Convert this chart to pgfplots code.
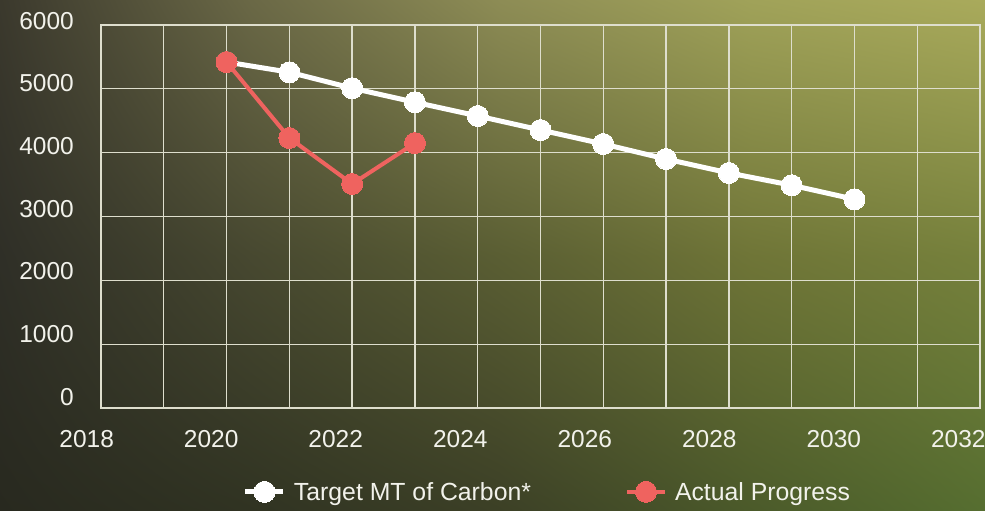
\documentclass[border=0pt]{standalone}
\usepackage{pgfplots}
\pgfplotsset{compat=1.18}
\usetikzlibrary{shadings}
\usepackage{fontspec}
\setmainfont{Liberation Sans}
\definecolor{redc}{RGB}{239,99,95}
\definecolor{txt}{RGB}{242,242,235}
\definecolor{gridc}{RGB}{222,222,205}
% background colour grid (top, middle, bottom rows; 5 columns)
\definecolor{tA}{HTML}{3B392D}\definecolor{tB}{HTML}{6A6846}\definecolor{tC}{HTML}{8D8C55}\definecolor{tD}{HTML}{A0A259}\definecolor{tE}{HTML}{A9AA5B}
\definecolor{mA}{HTML}{2F2F27}\definecolor{mB}{HTML}{474830}\definecolor{mC}{HTML}{5A5E33}\definecolor{mD}{HTML}{6F7537}\definecolor{mE}{HTML}{76813C}
\definecolor{bA}{HTML}{28291F}\definecolor{bB}{HTML}{303322}\definecolor{bC}{HTML}{3C4026}\definecolor{bD}{HTML}{4B5A2A}\definecolor{bE}{HTML}{566E30}
\newcommand\patch[8]{\shade[upper left=#5, upper right=#6, lower left=#7, lower right=#8] (#1bp,#2bp) rectangle (#3bp,#4bp);}
\begin{document}
\begin{tikzpicture}
\patch{0}{255}{250.5}{511}{tA}{tB}{mA}{mB}
\patch{250}{255}{500.5}{511}{tB}{tC}{mB}{mC}
\patch{500}{255}{750.5}{511}{tC}{tD}{mC}{mD}
\patch{750}{255}{985}{511}{tD}{tE}{mD}{mE}
\patch{0}{0}{250.5}{255.5}{mA}{mB}{bA}{bB}
\patch{250}{0}{500.5}{255.5}{mB}{mC}{bB}{bC}
\patch{500}{0}{750.5}{255.5}{mC}{mD}{bC}{bD}
\patch{750}{0}{985}{255.5}{mD}{mE}{bD}{bE}
\begin{axis}[
  at={(101bp,103bp)}, anchor=south west,
  scale only axis, width=879bp, height=383bp,
  xmin=2018, xmax=2032, ymin=0, ymax=6000,
  xtick={2018,2020,...,2032},
  minor xtick={2019,2021,...,2031},
  ytick={0,1000,...,6000},
  scaled y ticks=false,
  grid=both,
  major grid style={gridc, line width=1.3bp},
  minor grid style={gridc, line width=1.3bp},
  axis line style={gridc, line width=1.3bp},
  major tick length=0pt, minor tick length=0pt,
  tick style={draw=none},
  /pgf/number format/1000 sep={},
  /pgf/number format/assume math mode=true,
  tick label style={font=\fontsize{24.5bp}{28bp}\selectfont, text=txt},
  xticklabel style={anchor=north, inner sep=0pt, yshift=-22bp, xshift={(-14.3-1.05*\ticknum)*1bp}},
  yticklabel style={anchor=east, inner sep=0pt, xshift=-27bp, yshift={(11-1.1*\ticknum)*1bp}},
  legend columns=2,
  legend style={at={(0.508,-0.219)}, anchor=center, draw=none, fill=none,
    text=txt, font=\fontsize{24.8bp}{28bp}\selectfont,
    /tikz/every odd column/.append style={column sep=6bp},
    /tikz/every even column/.append style={column sep=92bp}},
  legend image code/.code={\draw[mark repeat=2, mark phase=2, #1] plot coordinates {(0bp,0bp) (19bp,0bp) (38bp,0bp)};},
]
\addplot[white, line width=5bp, mark=*, mark size=10.5bp, mark options={fill=white, draw=white, line width=0pt}]
  coordinates {(2020,5420) (2021,5260) (2022,5010) (2023,4790) (2024,4575) (2025,4355) (2026,4136) (2027,3900) (2028,3682) (2029,3490) (2030,3270)};
\addlegendentry{Target MT of Carbon*}
\addplot[redc, line width=4bp, mark=*, mark size=10.5bp, mark options={fill=redc, draw=redc, line width=0pt}]
  coordinates {(2020,5420) (2021,4230) (2022,3510) (2023,4150)};
\addlegendentry{Actual Progress}
\end{axis}
\pgfresetboundingbox
\path[use as bounding box] (0,0) rectangle (985bp,511bp);
\end{tikzpicture}
\end{document}
